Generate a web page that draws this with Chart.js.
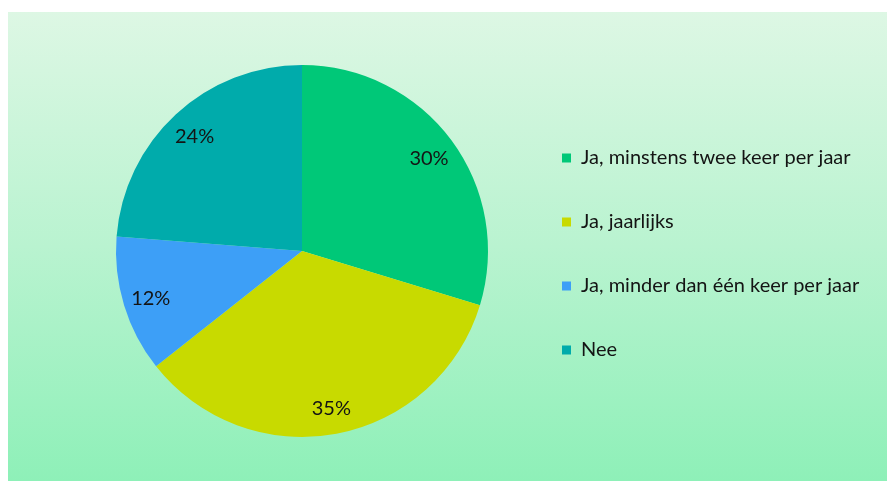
<!DOCTYPE html>
<html>
<head>
<meta charset="utf-8">
<script src="https://cdn.jsdelivr.net/npm/chart.js@4/dist/chart.umd.min.js"></script>
<style>
  html, body { margin: 0; padding: 0; background: #ffffff; }
  #wrap {
    position: absolute; left: 8px; top: 12px; width: 879px; height: 469px;
    background: linear-gradient(to bottom, #ddf7e4 0%, #b9f3d0 50%, #8ef0b8 100%);
  }
</style>
</head>
<body>
<div id="wrap"><canvas id="piechart" width="879" height="469"></canvas></div>
<script>
const pieChart = document.getElementById("piechart");

const categories = [
    "Ja, minstens twee keer per jaar",
    "Ja, jaarlijks",
    "Ja, minder dan één keer per jaar",
    "Nee"
];
const percentages = [30, 35, 12, 24];
const sliceColors = ["#00c878", "#c8da00", "#3d9ff7", "#00abab"];

const fontFamily = "Lato, 'Open Sans', sans-serif";

// make the legend column a fixed width so the pie sits left of it,
// and nudge it down a little
const legendWidthPlugin = {
    id: "legendWidth",
    beforeInit(chart) {
        const fit = chart.legend.fit;
        chart.legend.fit = function() {
            fit.bind(chart.legend)();
            this.width = 369;
        };
    },
    afterLayout(chart) {
        chart.legend.top += 3;
        chart.legend.bottom += 3;
    }
};

// percentage text inside each slice
const sliceLabels = {
    id: "sliceLabels",
    afterDatasetsDraw(chart) {
        const ctx = chart.ctx;
        const meta = chart.getDatasetMeta(0);
        ctx.save();
        ctx.font = "20px " + fontFamily;
        ctx.fillStyle = "#141414";
        ctx.textAlign = "center";
        ctx.textBaseline = "middle";
        meta.data.forEach(function(arc, i) {
            const p = arc.getProps(["x", "y", "startAngle", "endAngle", "outerRadius"]);
            const mid = (p.startAngle + p.endAngle) / 2;
            const r = p.outerRadius * 0.85;
            ctx.fillText(percentages[i] + "%", p.x + Math.cos(mid) * r, p.y + Math.sin(mid) * r + 2);
        });
        ctx.restore();
    }
};

new Chart(pieChart, {
    type: "pie",
    data: {
        labels: categories,
        datasets: [{
            data: percentages,
            backgroundColor: sliceColors,
            borderWidth: 0,
            offset: 0,
            hoverOffset: 0
        }]
    },
    options: {
        responsive: false,
        animation: false,
        layout: {
            padding: { left: 78, right: 0, top: 53, bottom: 44 }
        },
        plugins: {
            legend: {
                position: "right",
                align: "center",
                labels: {
                    boxWidth: 9,
                    boxHeight: 9,
                    padding: 44,
                    color: "#141414",
                    font: { family: fontFamily, size: 20 }
                }
            },
            tooltip: { enabled: false }
        }
    },
    plugins: [legendWidthPlugin, sliceLabels]
});
</script>
</body>
</html>
